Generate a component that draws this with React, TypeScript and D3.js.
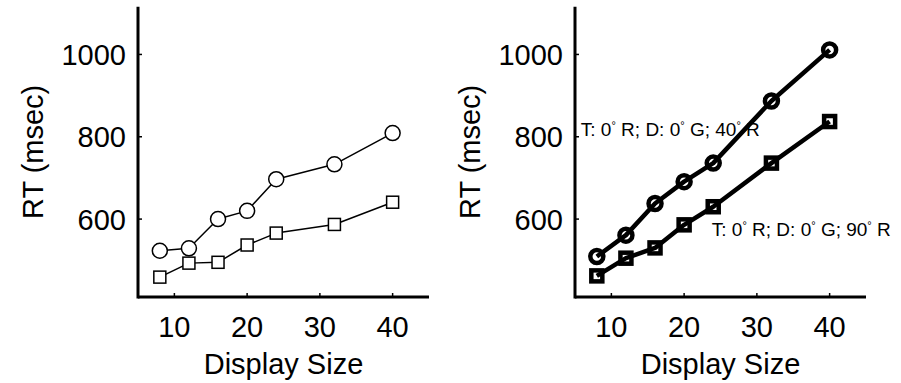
import React from "react";
import * as d3 from "d3";

const displaySizes = [8, 12, 16, 20, 24, 32, 40];
const leftCircle = [523, 529, 600, 620, 697, 733, 809];
const leftSquare = [459, 493, 495, 537, 566, 587, 641];
const rightCircle = [509, 561, 638, 691, 736, 887, 1011];
const rightSquare = [462, 505, 530, 586, 630, 736, 837];
const xTicks = [10, 20, 30, 40];
const yTicks = [600, 800, 1000];
const xDomain = [5, 45];
const yDomain = [410.7, 1116];
const annotations = [
  { parts: ["T: 0", " R; D: 0", " G; 40", " R"], x: 5.8, y: 802 },
  { parts: ["T: 0", " R; D: 0", " G; 90", " R"], x: 23.8, y: 557.7 },
];

const FONT = "'Liberation Sans', Arial, Helvetica, sans-serif";

function Panel({ left, circle, square, thick, annos }: any) {
  const x = d3.scaleLinear().domain(xDomain).range([left, left + 291]);
  const y = d3.scaleLinear().domain(yDomain).range([297, 6.7]);
  const line = d3
    .line<number>()
    .x((_, i) => x(displaySizes[i]))
    .y((d) => y(d));
  const lw = thick ? 4.5 : 1.5;
  const r = thick ? 6.5 : 7.5;
  const sq = thick ? 11 : 12;
  const fill = thick ? "none" : "white";
  const x0 = x(xDomain[0]);
  const y0 = y(yDomain[0]);
  return (
    <g>
      <line x1={x0} x2={x(xDomain[1])} y1={y0} y2={y0} stroke="black" strokeWidth={3} />
      <line x1={x0} x2={x0} y1={y0 + 1.5} y2={y(yDomain[1])} stroke="black" strokeWidth={3} />
      {xTicks.map((t) => (
        <g key={"xt" + t}>
          <line x1={x(t)} x2={x(t)} y1={y0} y2={y0 - 4} stroke="black" strokeWidth={1.5} />
          <text x={x(t)} y={337} textAnchor="middle" fontSize={29} fontFamily={FONT}>
            {t}
          </text>
        </g>
      ))}
      {yTicks.map((t) => (
        <g key={"yt" + t}>
          <line x1={x0} x2={x0 + 4} y1={y(t)} y2={y(t)} stroke="black" strokeWidth={1.5} />
          <text x={x0 - 12} y={y(t) + 10.5} textAnchor="end" fontSize={29} fontFamily={FONT}>
            {t}
          </text>
        </g>
      ))}
      <text x={(x0 + x(xDomain[1])) / 2} y={374} textAnchor="middle" fontSize={29} fontFamily={FONT}>
        Display Size
      </text>
      <text
        transform={`translate(${x0 - 95},${(y0 + y(yDomain[1])) / 2}) rotate(-90)`}
        textAnchor="middle"
        fontSize={29}
        fontFamily={FONT}
      >
        RT (msec)
      </text>
      {[circle, square].map((s: number[], k: number) => (
        <path key={"l" + k} d={line(s) || ""} fill="none" stroke="black" strokeWidth={lw} strokeLinejoin="round" />
      ))}
      {circle.map((v: number, i: number) => (
        <circle key={"c" + i} cx={x(displaySizes[i])} cy={y(v)} r={r} fill={fill} stroke="black" strokeWidth={lw} />
      ))}
      {square.map((v: number, i: number) => (
        <rect
          key={"s" + i}
          x={x(displaySizes[i]) - sq / 2}
          y={y(v) - sq / 2}
          width={sq}
          height={sq}
          fill={fill}
          stroke="black"
          strokeWidth={lw}
        />
      ))}
      {annos &&
        annos.map((a: any, k: number) => (
          <text key={"a" + k} x={x(a.x)} y={y(a.y)} fontSize={19} fontFamily={FONT} style={{ whiteSpace: "pre" }}>
            {a.parts.map((p: string, j: number) => (
              <React.Fragment key={j}>
                <tspan dy={j === 0 ? 0 : 7}>{p}</tspan>
                {j < a.parts.length - 1 && (
                  <tspan dy={-7} fontSize={11}>
                    °
                  </tspan>
                )}
              </React.Fragment>
            ))}
          </text>
        ))}
    </g>
  );
}

export default function App() {
  return (
    <svg width={901} height={383} style={{ position: "absolute", left: 0, top: 0, background: "white" }}>
      <rect width={901} height={383} fill="white" />
      <Panel left={138} circle={leftCircle} square={leftSquare} thick={false} />
      <Panel left={575} circle={rightCircle} square={rightSquare} thick={true} annos={annotations} />
    </svg>
  );
}
